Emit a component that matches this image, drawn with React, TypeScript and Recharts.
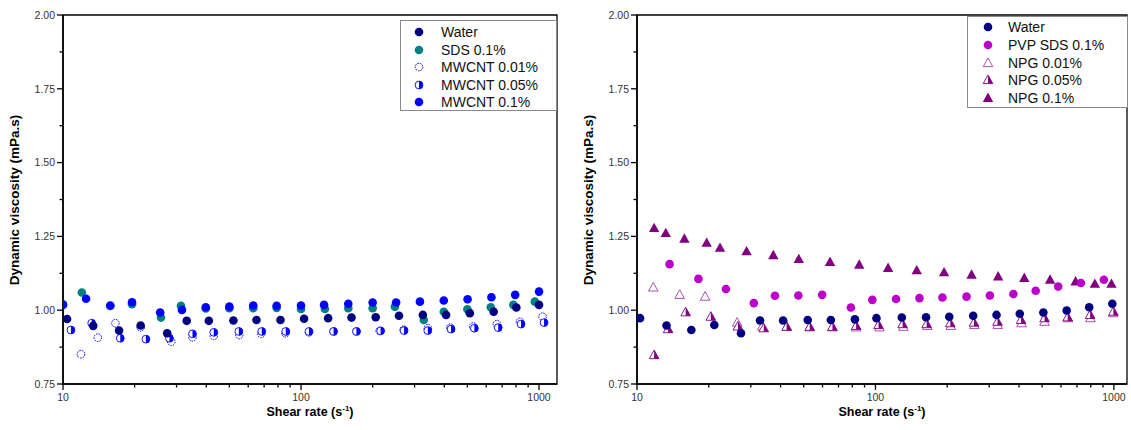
import React from 'react';
import { ScatterChart, Scatter, XAxis, YAxis, ReferenceArea, Legend } from 'recharts';

// ---------- Left panel data ----------
const waterLX = [10.4, 13.4, 17.2, 21.2, 27.4, 33.1, 41, 52, 65, 82, 103, 130, 163, 206, 258, 325, 407, 512, 645, 803, 1000];
const waterLY = [0.970, 0.947, 0.931, 0.948, 0.922, 0.964, 0.964, 0.965, 0.967, 0.967, 0.971, 0.973, 0.975, 0.976, 0.981, 0.984, 0.984, 0.990, 0.995, 1.009, 1.018];

const sdsX = [10, 12, 15.8, 19.5, 25.8, 31.3, 39.8, 50, 63, 79, 100, 126, 158, 200, 248, 328, 398, 500, 627, 780, 960];
const sdsY = [1.020, 1.060, 1.014, 1.020, 0.975, 1.015, 1.006, 1.007, 1.007, 1.008, 1.004, 1.004, 1.007, 1.007, 1.012, 0.967, 0.995, 1.003, 1.010, 1.018, 1.029];

const mw001X = [11.9, 14, 16.6, 21.2, 28.5, 35, 43, 55, 68, 86, 108, 137, 171, 214, 270, 341, 424, 529, 665, 832, 1035];
const mw001Y = [0.851, 0.907, 0.956, 0.942, 0.893, 0.908, 0.913, 0.916, 0.920, 0.922, 0.925, 0.928, 0.928, 0.930, 0.934, 0.939, 0.941, 0.945, 0.953, 0.961, 0.978];

const mw005X = [10.8, 13.2, 17.4, 22.3, 28, 35, 43, 54.8, 68.4, 86.3, 108, 137, 171, 216, 271, 341, 427, 535, 674, 840, 1050];
const mw005Y = [0.933, 0.956, 0.905, 0.902, 0.905, 0.920, 0.925, 0.928, 0.928, 0.928, 0.928, 0.928, 0.928, 0.930, 0.931, 0.931, 0.936, 0.939, 0.941, 0.953, 0.958];

const mw01X = [10, 12.5, 15.8, 19.5, 25.6, 31.6, 39.8, 50, 63, 79, 100, 125, 158, 200, 251, 316, 398, 501, 631, 794, 1000];
const mw01Y = [1.018, 1.039, 1.016, 1.027, 0.992, 1.001, 1.010, 1.012, 1.016, 1.015, 1.016, 1.018, 1.022, 1.026, 1.026, 1.029, 1.033, 1.037, 1.044, 1.052, 1.063];

// ---------- Right panel data ----------
const waterRX = [10.3, 13.3, 16.9, 21.1, 27.3, 32.8, 41, 52, 65, 82, 101, 129, 163, 204, 257, 322, 403, 506, 634, 788, 985];
const waterRY = [0.973, 0.948, 0.933, 0.950, 0.922, 0.965, 0.965, 0.967, 0.967, 0.969, 0.973, 0.975, 0.976, 0.978, 0.981, 0.984, 0.988, 0.992, 0.999, 1.010, 1.022];

const pvpX = [13.7, 18.1, 23.6, 30.9, 37.9, 47.5, 59.8, 78.9, 97, 122, 153, 191, 241, 302, 379, 470, 584, 727, 908];
const pvpY = [1.156, 1.106, 1.072, 1.024, 1.049, 1.050, 1.052, 1.009, 1.035, 1.038, 1.041, 1.043, 1.046, 1.050, 1.055, 1.066, 1.080, 1.092, 1.103];

const npg001X = [11.7, 15.1, 19.3, 26.3, 33.5, 42.5, 53, 66, 83, 104, 131, 165, 207, 260, 326, 410, 512, 642, 798, 995];
const npg001Y = [1.077, 1.052, 1.046, 0.958, 0.945, 0.944, 0.942, 0.942, 0.942, 0.942, 0.944, 0.947, 0.947, 0.950, 0.950, 0.956, 0.961, 0.973, 0.973, 0.990];

const npg005X = [11.8, 13.5, 16.0, 20.4, 26.5, 34, 42.4, 53, 66, 83, 103, 130, 164, 206, 259, 325, 408, 512, 640, 795, 995];
const npg005Y = [0.848, 0.936, 0.993, 0.978, 0.945, 0.939, 0.944, 0.944, 0.944, 0.947, 0.950, 0.953, 0.953, 0.956, 0.958, 0.961, 0.967, 0.973, 0.976, 0.984, 0.995];

const npg01X = [11.8, 13.2, 15.8, 19.6, 22.3, 28.8, 37.3, 47.7, 64.5, 85.5, 113, 149, 194, 253, 327, 421, 540, 691, 832, 977];
const npg01Y = [1.278, 1.261, 1.242, 1.228, 1.211, 1.199, 1.186, 1.173, 1.163, 1.154, 1.143, 1.135, 1.128, 1.120, 1.114, 1.109, 1.103, 1.097, 1.089, 1.089];

// ---------- Axis ticks ----------
const xMajor = [10, 100, 1000];
const xTicks = [10, 20, 30, 40, 50, 60, 70, 80, 90, 100, 200, 300, 400, 500, 600, 700, 800, 900, 1000];
const yMajor = [0.75, 1.0, 1.25, 1.5, 1.75, 2.0];
const yTicks = [0.75, 0.875, 1.0, 1.125, 1.25, 1.375, 1.5, 1.625, 1.75, 1.875, 2.0];

const leftNames = ['Water', 'SDS 0.1%', 'MWCNT 0.01%', 'MWCNT 0.05%', 'MWCNT 0.1%'];
const rightNames = ['Water', 'PVP SDS 0.1%', 'NPG 0.01%', 'NPG 0.05%', 'NPG 0.1%'];

const NAVY = '#000080';
const TEAL = '#008080';
const BLUE = '#0000FF';
const VIOLET = '#BB00CC';
const PURPLE = '#800080';
const LILAC = '#A040A8';

const pts = (xs: number[], ys: number[]) => xs.map((x, i) => ({ x, y: ys[i] }));

// ---------- Marker drawing ----------
const R = 4.3;
const drawFilledCircle = (cx: number, cy: number, color: string, r = R) => (
  <circle cx={cx} cy={cy} r={r} fill={color} />
);
const drawOpenCircle = (cx: number, cy: number, color: string, r = R - 0.5) => (
  <circle cx={cx} cy={cy} r={r} fill="none" stroke={color} strokeWidth={1} strokeDasharray="1.6 1" />
);
const drawHalfCircle = (cx: number, cy: number, color: string, r = R - 0.4) => (
  <g>
    <circle cx={cx} cy={cy} r={r} fill="#fff" stroke={color} strokeWidth={0.9} />
    <path d={`M ${cx} ${cy - r} A ${r} ${r} 0 0 1 ${cx} ${cy + r} Z`} fill={color} />
  </g>
);
const triPts = (cx: number, cy: number, s = 5.2) =>
  `${cx},${cy - s * 1.05} ${cx + s},${cy + s * 0.75} ${cx - s},${cy + s * 0.75}`;
const drawFilledTri = (cx: number, cy: number, color: string) => (
  <polygon points={triPts(cx, cy)} fill={color} />
);
const drawOpenTri = (cx: number, cy: number, color: string) => (
  <polygon points={triPts(cx, cy, 4.8)} fill="none" stroke={color} strokeWidth={0.9} />
);
const drawHalfTri = (cx: number, cy: number, color: string) => {
  const s = 4.8;
  return (
    <g>
      <polygon points={triPts(cx, cy, s)} fill="#fff" stroke={color} strokeWidth={0.9} />
      <polygon points={`${cx},${cy - s * 1.05} ${cx + s},${cy + s * 0.75} ${cx},${cy + s * 0.75}`} fill={color} />
    </g>
  );
};

const shapeOf = (fn: (cx: number, cy: number, c: string) => React.ReactElement, color: string) =>
  (p: any) => fn(p.cx, p.cy, color);

const font = 'Liberation Sans, Arial, sans-serif';

// ---------- Axis ticks ----------
const XTick = (props: any) => {
  const { x, y, payload } = props;
  const v = payload.value;
  const major = xMajor.includes(v);
  return (
    <g>
      <line x1={x} x2={x} y1={y} y2={y + (major ? 6 : 3.5)} stroke="#000" strokeWidth={1.3} />
      {major && (
        <text x={x} y={y + 17} textAnchor="middle" fontSize={10.5} fill="#333" fontFamily={font}>
          {v}
        </text>
      )}
    </g>
  );
};
const YTick = (props: any) => {
  const { x, y, payload } = props;
  const v = payload.value;
  const major = yMajor.some((m) => Math.abs(m - v) < 1e-6);
  return (
    <g>
      <line x1={x} x2={x - (major ? 6 : 3.5)} y1={y} y2={y} stroke="#000" strokeWidth={1.3} />
      {major && (
        <text x={x - 8} y={y + 3.8} textAnchor="end" fontSize={10.5} fill="#333" fontFamily={font}>
          {v.toFixed(2)}
        </text>
      )}
    </g>
  );
};

// ---------- Legend ----------
type LegendItem = { name: string; draw: (cx: number, cy: number) => React.ReactElement };
const makeLegend = (items: LegendItem[], iconX: number, textX: number, rowH: number, firstY: number, w: number, h: number) => () => (
  <div style={{ width: w, height: h, border: '1px solid #8a8a8a', background: '#fff', boxSizing: 'border-box', position: 'relative' }}>
    {items.map((it, i) => (
      <div key={it.name} style={{ position: 'absolute', left: 0, top: firstY + i * rowH - 9, height: 18, width: w - 2 }}>
        <svg width={22} height={18} style={{ position: 'absolute', left: iconX - 11, top: 0 }}>
          {it.draw(11, 9)}
        </svg>
        <span style={{ position: 'absolute', left: textX, top: 1, fontSize: 14, lineHeight: '16px', fontFamily: font, color: '#111', whiteSpace: 'nowrap' }}>
          {it.name}
        </span>
      </div>
    ))}
  </div>
);

const leftLegend = makeLegend(
  [
    { name: leftNames[0], draw: (cx, cy) => drawFilledCircle(cx, cy, NAVY) },
    { name: leftNames[1], draw: (cx, cy) => drawFilledCircle(cx, cy, TEAL) },
    { name: leftNames[2], draw: (cx, cy) => drawOpenCircle(cx, cy, BLUE) },
    { name: leftNames[3], draw: (cx, cy) => drawHalfCircle(cx, cy, BLUE) },
    { name: leftNames[4], draw: (cx, cy) => drawFilledCircle(cx, cy, BLUE) },
  ],
  18, 40, 17.5, 11, 157, 91
);
const rightLegend = makeLegend(
  [
    { name: rightNames[0], draw: (cx, cy) => drawFilledCircle(cx, cy, NAVY) },
    { name: rightNames[1], draw: (cx, cy) => drawFilledCircle(cx, cy, VIOLET) },
    { name: rightNames[2], draw: (cx, cy) => drawOpenTri(cx, cy, LILAC) },
    { name: rightNames[3], draw: (cx, cy) => drawHalfTri(cx, cy, PURPLE) },
    { name: rightNames[4], draw: (cx, cy) => drawFilledTri(cx, cy, PURPLE) },
  ],
  20, 40, 17.8, 10, 161, 92
);

const YTitle = ({ x }: { x: number }) => (
  <text transform={`translate(${x},200) rotate(-90)`} textAnchor="middle" fontSize={13.5} fontWeight="bold" fill="#000" fontFamily={font}>
    Dynamic viscosity (mPa.s)
  </text>
);
const XTitle = ({ x }: { x: number }) => (
  <text x={x} y={416} textAnchor="middle" fontSize={12.5} fontWeight="bold" fill="#000" fontFamily={font}>
    Shear rate (s
    <tspan dy={-5} fontSize={8}>-1</tspan>
    <tspan dy={5}>)</tspan>
  </text>
);

const Panel = ({ left, width, rightM, xMax, series, legend, legendPos }: any) => (
  <div style={{ position: 'absolute', left, top: 0 }}>
    <ScatterChart width={width} height={430} margin={{ top: 15, right: rightM, bottom: 0, left: 0 }}>
      <XAxis
        type="number"
        dataKey="x"
        scale="log"
        domain={[10, xMax]}
        ticks={xTicks}
        interval={0}
        allowDataOverflow
        height={46}
        tickSize={0}
        tickMargin={0}
        tickLine={false}
        tick={<XTick />}
        axisLine={{ stroke: '#000', strokeWidth: 1.6 }}
      />
      <YAxis
        type="number"
        dataKey="y"
        domain={[0.75, 2.0]}
        ticks={yTicks}
        interval={0}
        allowDataOverflow
        width={63}
        tickSize={0}
        tickMargin={0}
        tickLine={false}
        tick={<YTick />}
        axisLine={{ stroke: '#000', strokeWidth: 1.6 }}
      />
      <ReferenceArea x1={10} x2={xMax} y1={0.75} y2={2.0} fill="none" stroke="#000" strokeWidth={1.3} ifOverflow="visible" />
      {series.map((s: any) => (
        <Scatter key={s.name} name={s.name} data={s.data} shape={s.shape} isAnimationActive={false} />
      ))}
      <Legend
        layout="vertical"
        align="center"
        verticalAlign="middle"
        content={legend}
        wrapperStyle={{ left: legendPos[0], top: legendPos[1], width: 'auto', height: 'auto' }}
      />
      <YTitle x={19} />
      <XTitle x={63 + (width - rightM - 63) / 2} />
    </ScatterChart>
  </div>
);

export default function App() {
  const leftSeries = [
    { name: leftNames[1], data: pts(sdsX, sdsY), shape: shapeOf(drawFilledCircle, TEAL) },
    { name: leftNames[2], data: pts(mw001X, mw001Y), shape: shapeOf(drawOpenCircle, BLUE) },
    { name: leftNames[3], data: pts(mw005X, mw005Y), shape: shapeOf(drawHalfCircle, BLUE) },
    { name: leftNames[0], data: pts(waterLX, waterLY), shape: shapeOf(drawFilledCircle, NAVY) },
    { name: leftNames[4], data: pts(mw01X, mw01Y), shape: shapeOf(drawFilledCircle, BLUE) },
  ];
  const rightSeries = [
    { name: rightNames[2], data: pts(npg001X, npg001Y), shape: shapeOf(drawOpenTri, LILAC) },
    { name: rightNames[3], data: pts(npg005X, npg005Y), shape: shapeOf(drawHalfTri, PURPLE) },
    { name: rightNames[4], data: pts(npg01X, npg01Y), shape: shapeOf(drawFilledTri, PURPLE) },
    { name: rightNames[1], data: pts(pvpX, pvpY), shape: shapeOf(drawFilledCircle, VIOLET) },
    { name: rightNames[0], data: pts(waterRX, waterRY), shape: shapeOf(drawFilledCircle, NAVY) },
  ];
  return (
    <div style={{ position: 'absolute', left: 0, top: 0, width: 1131, height: 430, background: '#fff', overflow: 'hidden' }}>
      <Panel left={0} width={565} rightM={8} xMax={1190} series={leftSeries} legend={leftLegend} legendPos={[400, 20]} />
      <Panel left={574} width={557} rightM={4} xMax={1135} series={rightSeries} legend={rightLegend} legendPos={[393, 16]} />
    </div>
  );
}
